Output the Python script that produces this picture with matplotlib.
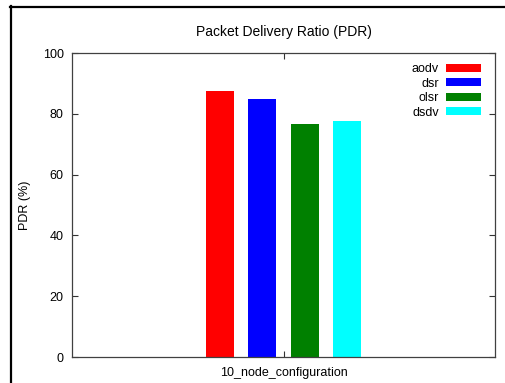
import matplotlib
matplotlib.use("Agg")
import numpy as np
import matplotlib.pyplot as plt
from matplotlib.lines import Line2D
from matplotlib.patches import Patch

plt.rcParams['font.family'] = ['Liberation Sans', 'DejaVu Sans']

# PDR per routing protocol, single scenario
categories = ["10_node_configuration"]
protocols = ["aodv", "dsr", "olsr", "dsdv"]
pdr_aodv = [87.6]
pdr_dsr = [84.8]
pdr_olsr = [76.6]
pdr_dsdv = [77.6]
colors = ["#ff0000", "#0000ff", "#008000", "#00ffff"]

series = [pdr_aodv, pdr_dsr, pdr_olsr, pdr_dsdv]

fig = plt.figure(figsize=(5.05, 3.83), dpi=100)
ax = fig.add_axes([72 / 505, 1 - 357 / 383, 423 / 505, 304 / 383])

x = np.arange(len(categories))
slot = 0.2
width = 0.132
for i, (vals, c) in enumerate(zip(series, colors)):
    ax.bar(x + (i - 1.5) * slot, vals, width=width, color=c, label=protocols[i])

ax.set_xlim(-1, 1)
ax.set_ylim(0, 100)
ax.set_yticks(np.arange(0, 101, 20))
ax.set_xticks(x)
ax.set_xticklabels(categories)
ax.tick_params(direction="in", length=4, width=0.8, color="#333333",
               top=True, right=True, labelsize=9, pad=6)
ax.tick_params(axis="x", pad=7)
for s in ax.spines.values():
    s.set_color("#404040")
    s.set_linewidth(0.9)

ax.set_ylabel("PDR (%)", fontsize=9)
ax.yaxis.set_label_coords(-41 / 423, 0.5)
ax.set_title("Packet Delivery Ratio (PDR)", fontsize=10, pad=12)

handles = [Patch(facecolor=c, edgecolor="none") for c in colors]
ax.legend(handles, protocols, loc="upper right", frameon=False, markerfirst=False,
          fontsize=9, handlelength=2.8, handleheight=0.6, labelspacing=0.2,
          handletextpad=0.6, borderaxespad=0.3, bbox_to_anchor=(0.988, 0.995))

# window frame edges
fig.add_artist(Line2D([11 / 505, 11 / 505], [0, 1 - 6 / 383], transform=fig.transFigure,
                      color="black", lw=1.6))
fig.add_artist(Line2D([10 / 505, 1], [1 - 7 / 383, 1 - 7 / 383], transform=fig.transFigure,
                      color="black", lw=1.6))

fig.savefig("out.png", dpi=100)
